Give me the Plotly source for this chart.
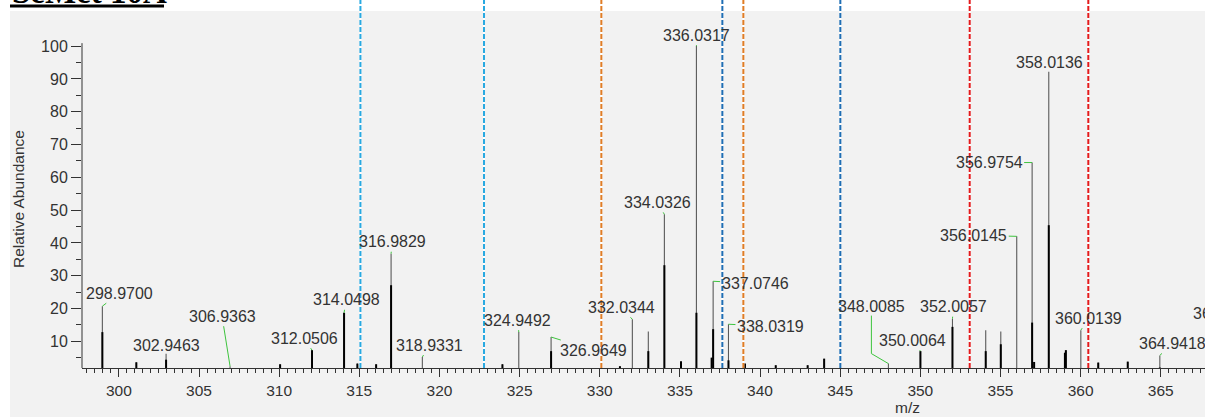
import plotly.graph_objects as go

# ---- spectrum data -------------------------------------------------------
# m/z of each stick, its relative abundance and the height of its dark core
mz = [298.9700, 301.09, 302.9463, 306.9363, 310.06, 312.0506, 314.0498, 314.88,
      316.05, 316.9829, 318.9331, 323.93, 324.9492, 326.9649, 331.26, 332.0344,
      333.03, 334.0326, 335.07, 336.0317, 336.98, 337.0746, 338.0319, 339.06,
      340.98, 342.97, 344.00, 348.0085, 350.0064, 352.0057, 354.08, 355.02,
      356.0145, 356.9754, 357.10, 358.0136, 359.02, 359.08, 360.0139, 361.10,
      362.94, 364.9418]
rel_abundance = [20.7, 3.6, 6.2, 2.4, 3.0, 7.3, 18.7, 3.2,
                 3.0, 36.7, 5.2, 3.0, 12.8, 11.3, 2.4, 16.7,
                 13.0, 48.7, 3.9, 100.0, 5.0, 28.3, 15.2, 3.2,
                 2.7, 2.7, 4.7, 3.2, 7.0, 16.9, 13.4, 13.0,
                 42.0, 64.5, 3.7, 92.2, 6.5, 7.3, 13.4, 3.5,
                 3.8, 5.7]
core_abundance = [12.8, 3.6, 4.4, 0, 3.0, 7.3, 18.7, 3.2,
                  3.0, 27.1, 0, 3.0, 0, 7.0, 2.4, 0,
                  7.0, 33.2, 3.9, 18.7, 5.0, 13.7, 4.2, 3.2,
                  2.7, 2.7, 4.7, 0, 7.0, 14.4, 7.0, 9.1,
                  0, 15.7, 3.7, 45.4, 6.5, 7.3, 0, 3.5,
                  3.8, 2.0]

# annotated peaks
label_mz = [298.9700, 302.9463, 306.9363, 312.0506, 314.0498, 316.9829,
            318.9331, 324.9492, 326.9649, 332.0344, 334.0326, 336.0317,
            337.0746, 338.0319, 348.0085, 350.0064, 352.0057, 356.0145,
            356.9754, 358.0136, 360.0139, 364.9418]
# label placement relative to the peak top (pixels)
label_offsets = [(17, -13), (0, -8), (-8, -50), (-8, -12), (2, -13), (1, -12),
                 (7, -12), (-1, -12), (42, 13), (-11, -12), (-7, -12), (0, -11),
                 (42, 2), (42, 2), (-17, -57), (-8, -11), (1, -12), (-43, -1),
                 (-43, 0), (1, -9), (8, -12), (13, -12)]
# labels whose leader is drawn as a bent path (pixel vertices from the peak top)
bent_leaders = {348.0085: [(0, 0), (-17, -10), (-17, -48)]}
edge_label = "366.9395"

# marker lines (m/z) and their colours
marker_mz = [315.07, 322.78, 330.10, 338.96, 337.65, 345.01, 353.08, 360.48]
marker_colors = ["#29a9e1", "#29a9e1", "#e07d26", "#e07d26",
                 "#1f6eb4", "#1f6eb4", "#e41a1c", "#e41a1c"]

x_ticks = list(range(300, 370, 5))
y_ticks = list(range(10, 101, 10))
y_minor = list(range(5, 100, 10))

X_RANGE = [297.70, 367.76]
Y_RANGE = [1.86, 110.7]

# ---- figure --------------------------------------------------------------
W, H = 1205, 417
ML, MT, MB = 82, 11, 49
PW, PH = W - ML, H - MT - MB
FONT = "Liberation Sans, Arial, sans-serif"
TXT = "#333333"
LEADER = "#3ec43e"
X_SCALE = PW / (X_RANGE[1] - X_RANGE[0])
Y_SCALE = PH / (Y_RANGE[1] - Y_RANGE[0])


def px_x(px):
    return (px - ML) / PW


def px_y(py):
    return (H - MB - py) / PH


def sticks(xs, ys):
    sx, sy = [], []
    for x, y in zip(xs, ys):
        if y > 0:
            sx += [x, x, None]
            sy += [0, y, None]
    return sx, sy


fig = go.Figure()

gx, gy = sticks(mz, rel_abundance)
fig.add_trace(go.Scatter(x=gx, y=gy, mode="lines",
                         line=dict(color="#5a5a5a", width=1.1),
                         hoverinfo="skip", showlegend=False))
bx, by = sticks(mz, core_abundance)
fig.add_trace(go.Scatter(x=bx, y=by, mode="lines",
                         line=dict(color="#000000", width=2.0),
                         hoverinfo="skip", showlegend=False))

shapes = [
    # light panel behind the chart
    dict(type="rect", xref="paper", yref="paper", x0=px_x(10), x1=1.0,
         y0=px_y(H + 2), y1=1.0, fillcolor="#f2f2f2", line=dict(width=0),
         layer="below"),
    # vertical axis line (stops at 100 %)
    dict(type="line", xref="paper", yref="y", x0=0, x1=0, y0=Y_RANGE[0],
         y1=100.9, line=dict(color=TXT, width=1)),
    # heading underline
    dict(type="line", xref="paper", yref="paper", x0=px_x(10), x1=px_x(164),
         y0=px_y(6), y1=px_y(6), line=dict(color="#000000", width=3)),
]
for xm, col in zip(marker_mz, marker_colors):
    shapes.append(dict(type="line", xref="x", yref="paper", x0=xm, x1=xm,
                       y0=0, y1=1.06, line=dict(color="#ffffff", width=2)))
    shapes.append(dict(type="line", xref="x", yref="paper", x0=xm, x1=xm,
                       y0=0, y1=1.06,
                       line=dict(color=col, width=2, dash="5px,2px")))

height_of = dict(zip(mz, rel_abundance))
label_font = dict(family=FONT, size=16, color=TXT)
annotations = []
for m, (ox, oy) in zip(label_mz, label_offsets):
    h = height_of[m]
    if m in bent_leaders:
        path = bent_leaders[m]
        fig.add_trace(go.Scatter(
            x=[m + px / X_SCALE for px, _ in path],
            y=[h - py / Y_SCALE for _, py in path],
            mode="lines", line=dict(color=LEADER, width=1),
            hoverinfo="skip", showlegend=False))
        annotations.append(dict(
            x=m + ox / X_SCALE, y=h - oy / Y_SCALE, xref="x", yref="y",
            text=f"{m:.4f}", showarrow=False, xanchor="center",
            yanchor="middle", font=label_font))
    else:
        annotations.append(dict(
            x=m, y=h, xref="x", yref="y", text=f"{m:.4f}",
            showarrow=True, arrowhead=0, arrowwidth=1, arrowcolor=LEADER,
            standoff=0, ax=ox, ay=oy, font=label_font))

annotations += [
    dict(x=px_x(1191), y=px_y(313), xref="paper", yref="paper", text=edge_label,
         showarrow=False, xanchor="left", yanchor="middle", font=label_font),
    dict(x=px_x(18), y=px_y(199), xref="paper", yref="paper",
         text="Relative Abundance", textangle=-90, showarrow=False,
         xanchor="center", yanchor="middle",
         font=dict(family=FONT, size=15.5, color=TXT)),
    dict(x=px_x(907), y=px_y(407), xref="paper", yref="paper", text="m/z",
         showarrow=False, xanchor="center", yanchor="middle",
         font=dict(family=FONT, size=15.5, color=TXT)),
    # heading, mostly above the top edge of the page
    dict(x=px_x(10), y=px_y(-7.5), xref="paper", yref="paper",
         text="<b>SeMet 10A</b>", showarrow=False,
         xanchor="left", yanchor="middle",
         font=dict(family="Liberation Serif, Times New Roman, serif", size=33,
                   color="#000000")),
]

fig.update_layout(
    width=W, height=H,
    margin=dict(l=ML, r=0, t=MT, b=MB, pad=0),
    paper_bgcolor="#ffffff",
    plot_bgcolor="#e7e7e7",
    shapes=shapes,
    annotations=annotations,
    showlegend=False,
    font=dict(family=FONT, size=15, color=TXT),
)
fig.update_xaxes(
    range=X_RANGE, showgrid=False, zeroline=False,
    showline=True, linecolor=TXT, linewidth=1,
    tickmode="array", tickvals=x_ticks, ticks="outside", ticklen=8,
    tickcolor=TXT, tickwidth=1, tickfont=dict(family=FONT, size=15.5, color=TXT),
    minor=dict(dtick=0.5, tick0=300, ticks="outside", ticklen=4,
               tickcolor=TXT, tickwidth=1, showgrid=False),
)
fig.update_yaxes(
    range=Y_RANGE, showgrid=False, zeroline=False, showline=False,
    tickmode="array", tickvals=y_ticks, ticks="outside", ticklen=10,
    tickcolor=TXT, tickwidth=1, tickfont=dict(family=FONT, size=16, color=TXT),
    minor=dict(tickmode="array", tickvals=y_minor, ticks="outside", ticklen=5,
               tickcolor=TXT, tickwidth=1, showgrid=False),
)

fig.write_html("out.html")
